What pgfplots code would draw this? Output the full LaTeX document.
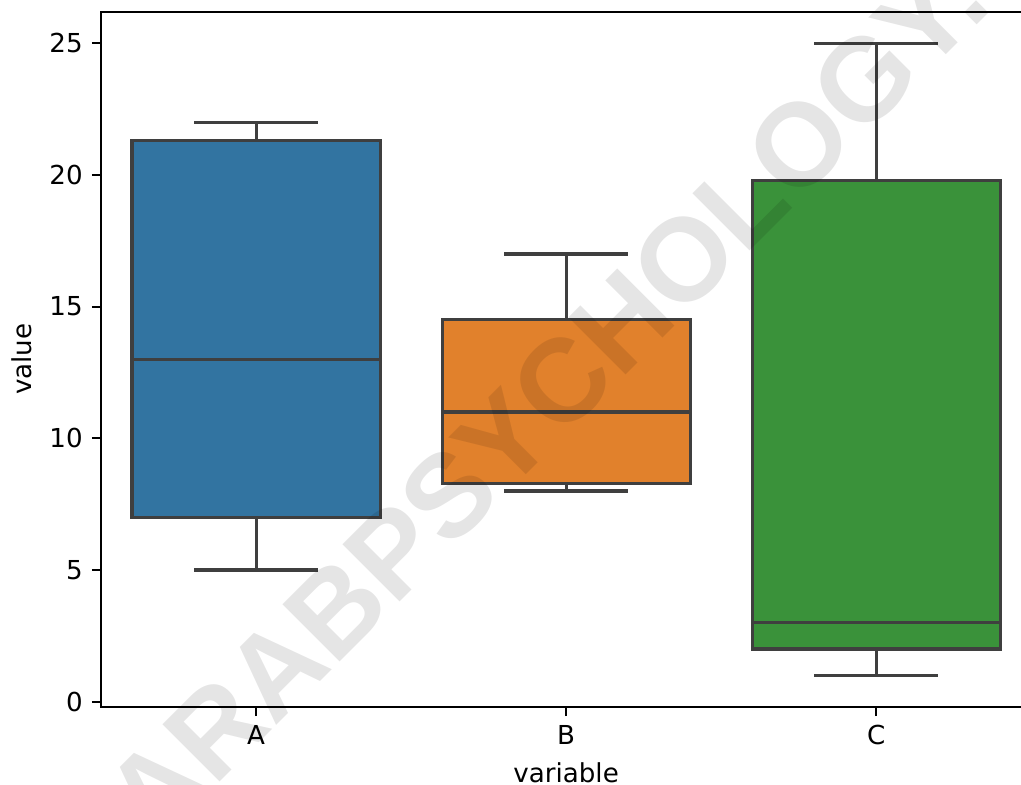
\documentclass[border=0pt]{standalone}
\usepackage{fontspec}
\setmainfont{DejaVu Sans}
\newfontfamily\wmfont{Liberation Sans}
\usepackage{pgfplots}
\pgfplotsset{compat=1.18}
\usepgfplotslibrary{statistics}

\definecolor{boxA}{HTML}{3274A1}
\definecolor{boxB}{HTML}{E1812C}
\definecolor{boxC}{HTML}{3A923A}
\definecolor{boxgray}{HTML}{3F3F3F}

\begin{document}
\begin{tikzpicture}
  \begin{axis}[
    name=ax,
    scale only axis,
    width=356.2pt,
    height=266.2pt,
    xmin=-0.5, xmax=2.5,
    ymin=-0.2, ymax=26.2,
    xtick={0,1,2},
    xticklabels={A,B,C},
    ytick={0,5,...,25},
    tick pos=left,
    tick align=outside,
    major tick length=3.5pt,
    every tick/.style={black, line width=0.8pt},
    axis line style={line width=0.8pt},
    xlabel=variable,
    ylabel=value,
    /pgf/number format/assume math mode=true,
    clip=false,
    boxplot/draw direction=y,
    boxplot/box extend=0.8,
    boxplot/whisker extend=0.4,
    boxplot/every median/.style={draw=boxgray, line width=1.2pt},
  ]

    % A
    \addplot[boxplot prepared={draw position=0,
        lower whisker=5, lower quartile=7, median=13,
        upper quartile=21.3, upper whisker=22},
      draw=boxgray, fill=boxA, line width=1.2pt] coordinates {};

    % B
    \addplot[boxplot prepared={draw position=1,
        lower whisker=8, lower quartile=8.3, median=11,
        upper quartile=14.5, upper whisker=17},
      draw=boxgray, fill=boxB, line width=1.2pt] coordinates {};

    % C
    \addplot[boxplot prepared={draw position=2,
        lower whisker=1, lower quartile=2, median=3,
        upper quartile=19.8, upper whisker=25},
      draw=boxgray, fill=boxC, line width=1.2pt] coordinates {};

    % watermark
    \node[rotate=45, anchor=base west, inner sep=0pt, text=black, text opacity=0.1,
      font=\wmfont\bfseries\fontsize{45}{45}\selectfont]
      at (rel axis cs:0.0566,-0.2024) {ARABPSYCHOLOGY.COM};

  \end{axis}
  \pgfresetboundingbox
  \useasboundingbox ([shift={(-38.7pt,-29.9pt)}]ax.south west) rectangle ++(391pt,300.6pt);
\end{tikzpicture}
\end{document}
